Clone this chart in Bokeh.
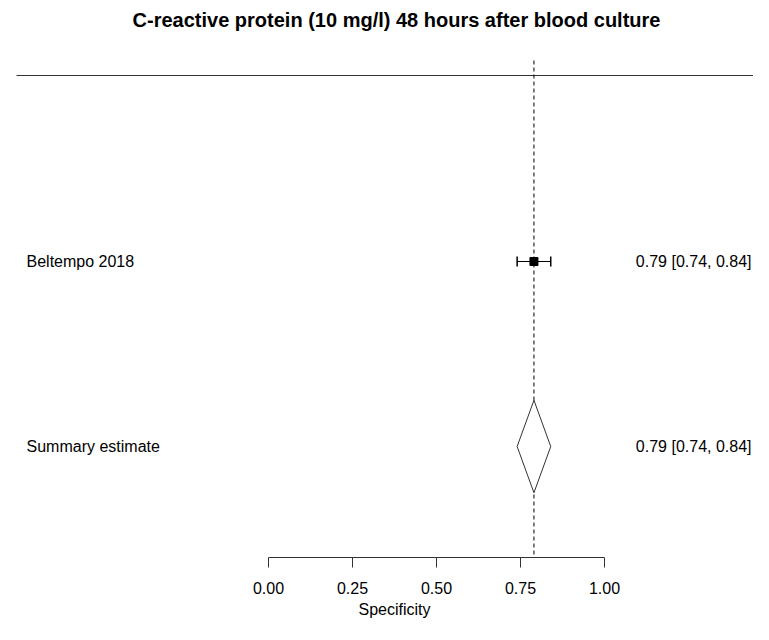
from bokeh.plotting import figure
from bokeh.models import (Range1d, ColumnDataSource, Whisker, TeeHead, Label,
                          FixedTicker, Title)
from bokeh.core.properties import value
from bokeh.embed import file_html
from bokeh.resources import INLINE

# ---- data ----
title = "C-reactive protein (10 mg/l) 48 hours after blood culture"
studies = ["Beltempo 2018"]
study_est = [0.79]
study_lower = [0.74]
study_upper = [0.84]
summary_label = "Summary estimate"
summary_est = 0.79
summary_lower = 0.74
summary_upper = 0.84
tick_values = [0.0, 0.25, 0.5, 0.75, 1.0]
tick_labels = ["0.00", "0.25", "0.50", "0.75", "1.00"]
x_label = "Specificity"

# ---- layout constants ----
W, H = 753, 624
PX = 336.0            # pixels per unit of specificity
X0_PX = 268.0         # canvas pixel of specificity 0
ROW_PX = 185.0        # pixels per row
ROW1_PX = 261.0       # canvas pixel of first row
FRAME_H = 557.0
BOTTOM = H - int(FRAME_H)

x_start = -X0_PX / PX
x_end = (W - X0_PX) / PX
r_top = 1 - ROW1_PX / ROW_PX
r_bot = 1 + (FRAME_H - ROW1_PX) / ROW_PX

def xd(px):
    return (px - X0_PX) / PX

def rd(px):
    return 1 + (px - ROW1_PX) / ROW_PX

FONT = "Liberation Sans"

p = figure(width=W, height=H, x_range=Range1d(x_start, x_end),
           y_range=Range1d(r_bot, r_top), output_backend="svg",
           toolbar_location=None, y_axis_location=None, title=None,
           min_border_left=0, min_border_right=0, min_border_top=0,
           min_border_bottom=BOTTOM)
p.outline_line_color = None
p.xgrid.visible = False
p.ygrid.visible = False
p.background_fill_color = "white"
p.border_fill_color = "white"

n = len(studies)
rows = list(range(1, n + 1))
sum_row = n + 1

# header line
p.segment(x0=[xd(16)], y0=[rd(75)], x1=[x_end], y1=[rd(75)], line_color="#333333",
          line_width=1)

# dashed reference line at summary estimate
p.segment(x0=[summary_est], y0=[rd(60)], x1=[summary_est], y1=[r_bot],
          line_color="black", line_width=1, line_dash="4 3")

# study CIs
src = ColumnDataSource(dict(y=rows, est=study_est, lower=study_lower,
                            upper=study_upper))
wh = Whisker(source=src, base="y", lower="lower", upper="upper",
             dimension="width", line_color="black", line_width=1,
             upper_head=TeeHead(size=10, line_color="black", line_width=1.5),
             lower_head=TeeHead(size=10, line_color="black", line_width=1.5))
p.add_layout(wh)
p.scatter(x="est", y="y", source=src, marker="square", size=8,
          fill_color="black", line_color="black")

# summary diamond
half = 0.25
p.patch(x=[summary_lower, summary_est, summary_upper, summary_est],
        y=[sum_row, sum_row - half, sum_row, sum_row + half],
        fill_color="white", line_color="#333333", line_width=1)

# left labels
left_src = ColumnDataSource(dict(x=[xd(26)] * (n + 1),
                                 y=rows + [sum_row],
                                 t=studies + [summary_label]))
p.text(x="x", y="y", text="t", source=left_src, text_font=value(FONT),
       text_font_size=value("16px"), text_align="left",
       text_baseline="middle", text_color="black")

# right labels
all_est = study_est + [summary_est]
all_lo = study_lower + [summary_lower]
all_hi = study_upper + [summary_upper]
rtxt = [f"{e:.2f} [{l:.2f}, {h:.2f}]" for e, l, h in zip(all_est, all_lo, all_hi)]
right_src = ColumnDataSource(dict(x=[xd(751)] * (n + 1), y=rows + [sum_row],
                                  t=rtxt))
p.text(x="x", y="y", text="t", source=right_src, text_font=value(FONT),
       text_font_size=value("16px"), text_align="right",
       text_baseline="middle", text_color="black")

# title
p.add_layout(Label(x=xd(396), y=rd(19), text=title, text_align="center",
                   text_baseline="alphabetic", text_font=FONT,
                   text_font_size="20px", text_font_style="bold",
                   text_color="black"))

# x axis
ax = p.xaxis[0]
ax.bounds = (0, 1)
ax.ticker = FixedTicker(ticks=tick_values)
ax.major_label_overrides = {v: l for v, l in zip(tick_values, tick_labels)}
ax.major_tick_out = 10
ax.major_tick_in = 0
ax.minor_tick_line_color = None
ax.axis_line_color = "#333333"
ax.major_tick_line_color = "#333333"
ax.major_label_text_font = FONT
ax.major_label_text_font_size = "16px"
ax.major_label_text_color = "black"
ax.major_label_standoff = 14

# x axis label as a below-panel title, shifted to sit where R puts it
p.add_layout(Title(text=x_label, align="left", offset=358,
                   text_font=FONT, text_font_size="16px",
                   text_font_style="normal", text_color="black",
                   standoff=5), "below")

open("out.html", "w").write(file_html(p, INLINE))
